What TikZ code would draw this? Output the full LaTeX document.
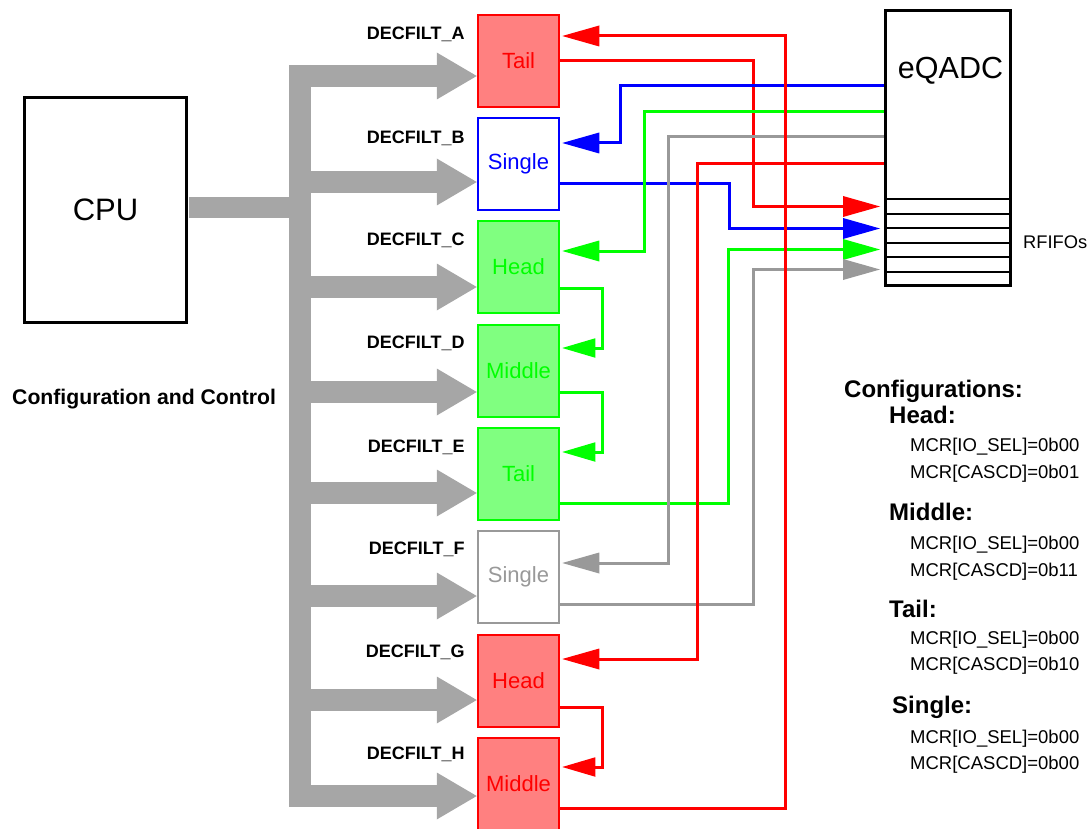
\documentclass[tikz,border=0pt]{standalone}
\usepackage{fontspec}
\setmainfont{Liberation Sans}
\usepackage{xcolor}
\usetikzlibrary{arrows.meta,positioning,calc}
\definecolor{busgray}{HTML}{A6A6A6}
\definecolor{wiregray}{HTML}{999999}
\definecolor{softred}{HTML}{FF8080}
\definecolor{softgreen}{HTML}{80FF80}
\tikzset{
  filt/.style={draw, line width=2.5pt, minimum width=81pt, minimum height=92pt, inner sep=0pt, align=center, font=\fontsize{22}{26}\selectfont},
  redfilt/.style={filt, draw=red, fill=softred, text=red},
  greenfilt/.style={filt, draw=green, fill=softgreen, text=green},
  bluefilt/.style={filt, draw=blue, fill=white, text=blue},
  grayfilt/.style={filt, draw=wiregray, fill=white, text=wiregray},
  cpubox/.style={draw, line width=2.7pt, minimum width=162pt, minimum height=225pt, inner sep=0pt, font=\fontsize{31}{36}\selectfont},
  adcbox/.style={draw, line width=3pt, minimum width=125pt, minimum height=275pt, inner sep=0pt},
  fifoline/.style={draw, line width=2pt},
  busline/.style={draw=busgray, line width=22pt},
  bus/.style={draw=busgray, line width=22pt, -{Triangle[length=40pt,width=47pt,line width=0pt]}},
  wire/.style={line width=3pt, -{Triangle[length=37pt,width=21pt,line width=0pt]}},
  link/.style={line width=3pt, -{Triangle[length=33pt,width=19.5pt,line width=0pt]}},
  tag/.style={font=\bfseries\fontsize{18}{21}\selectfont, inner sep=0pt, anchor=base east},
  cfgtitle/.style={font=\bfseries\fontsize{24}{28}\selectfont, inner sep=0pt, anchor=base west},
  cfgreg/.style={font=\fontsize{18.5}{22}\selectfont, inner sep=0pt, anchor=base west}
}

\begin{document}
\begin{tikzpicture}[x=1pt,y=-1pt]
  \useasboundingbox (0,0) rectangle (1092,829);

  % processor and converter
  \node[cpubox] (cpu) at (105.5,210) {CPU};
  \node[adcbox] (eq) at (948,148) {};
  \node[inner sep=0pt, anchor=base, font=\fontsize{30.5}{36}\selectfont] (eqname) at (950.5,79) {eQADC};
  \draw[fifoline] ([yshift=-190.5pt]eq.north west) -- ([yshift=-190.5pt]eq.north east);
  \draw[fifoline] ([yshift=-204.9pt]eq.north west) -- ([yshift=-204.9pt]eq.north east);
  \draw[fifoline] ([yshift=-219.3pt]eq.north west) -- ([yshift=-219.3pt]eq.north east);
  \draw[fifoline] ([yshift=-233.7pt]eq.north west) -- ([yshift=-233.7pt]eq.north east);
  \draw[fifoline] ([yshift=-248.1pt]eq.north west) -- ([yshift=-248.1pt]eq.north east);
  \draw[fifoline] ([yshift=-262.5pt]eq.north west) -- ([yshift=-262.5pt]eq.north east);
  \node[cfgreg, font=\fontsize{18.3}{22}\selectfont] (fifoname) at (1023,248.5) {RFIFOs};

  % decimation filters
  \node[redfilt] (dfA) at (518.5,61) {Tail};
  \node[bluefilt] (dfB) at (518.5,164) {Single};
  \node[greenfilt] (dfC) at (518.5,267) {Head};
  \node[greenfilt] (dfD) at (518.5,371) {Middle};
  \node[greenfilt] (dfE) at (518.5,474) {Tail};
  \node[grayfilt] (dfF) at (518.5,577) {Single};
  \node[redfilt] (dfG) at (518.5,681) {Head};
  \node[redfilt] (dfH) at (518.5,784) {Middle};

  \node[tag] (tagA) at ([xshift=-12pt,yshift=-26pt]dfA.north west) {DECFILT\_A};
  \node[tag] (tagB) at ([xshift=-12pt,yshift=-26.5pt]dfB.north west) {DECFILT\_B};
  \node[tag] (tagC) at ([xshift=-12pt,yshift=-25.5pt]dfC.north west) {DECFILT\_C};
  \node[tag] (tagD) at ([xshift=-12pt,yshift=-24.5pt]dfD.north west) {DECFILT\_D};
  \node[tag] (tagE) at ([xshift=-12pt,yshift=-25.5pt]dfE.north west) {DECFILT\_E};
  \node[tag] (tagF) at ([xshift=-12pt,yshift=-24.5pt]dfF.north west) {DECFILT\_F};
  \node[tag] (tagG) at ([xshift=-12pt,yshift=-23.5pt]dfG.north west) {DECFILT\_G};
  \node[tag] (tagH) at ([xshift=-12pt,yshift=-22.5pt]dfH.north west) {DECFILT\_H};

  % configuration and control bus
  \coordinate (spine) at (300,0);
  \coordinate (inA) at ([yshift=-15pt]dfA.west);
  \coordinate (inB) at ([yshift=-18pt]dfB.west);
  \coordinate (inC) at ([yshift=-20pt]dfC.west);
  \coordinate (inD) at ([yshift=-21pt]dfD.west);
  \coordinate (inE) at ([yshift=-19pt]dfE.west);
  \coordinate (inF) at ([yshift=-19pt]dfF.west);
  \coordinate (inG) at ([yshift=-19pt]dfG.west);
  \coordinate (inH) at ([yshift=-12pt]dfH.west);
  \coordinate (cpuout) at ([xshift=1.5pt,yshift=2.5pt]cpu.east);
  \draw[busline, shorten <=-11pt, shorten >=-11pt] (spine |- inA) -- (spine |- inH);
  \draw[busline, line width=21pt] (cpuout) -- (spine |- cpuout);
  \draw[bus] (spine |- inA) -- (inA);
  \draw[bus] (spine |- inB) -- (inB);
  \draw[bus] (spine |- inC) -- (inC);
  \draw[bus] (spine |- inD) -- (inD);
  \draw[bus] (spine |- inE) -- (inE);
  \draw[bus] (spine |- inF) -- (inF);
  \draw[bus] (spine |- inG) -- (inG);
  \draw[bus] (spine |- inH) -- (inH);
  \node[font=\bfseries\fontsize{21.2}{25}\selectfont, inner sep=0pt, anchor=base west] (ctrl) at (12,404.5) {Configuration and Control};

  % result paths into the RFIFOs
  \draw[wire, red] (dfA.east) -- ++(193,0) |- ([xshift=-4pt,yshift=-197.5pt]eq.north west);
  \draw[wire, blue] ([yshift=-20pt]dfB.east) -- ++(169,0) |- ([xshift=-4pt,yshift=-219.5pt]eq.north west);
  \draw[wire, green] ([yshift=-29pt]dfE.east) -- ++(168,0) |- ([xshift=-4pt,yshift=-240.5pt]eq.north west);
  \draw[wire, wiregray] ([yshift=-27pt]dfF.east) -- ++(193,0) |- ([xshift=-4pt,yshift=-260.5pt]eq.north west);

  % conversion data into the filters
  \draw[wire, blue] ([yshift=-76.5pt]eq.north west) -- ++(-263.5,0) |- ([xshift=2pt,yshift=21pt]dfB.east);
  \draw[wire, green] ([yshift=-102.5pt]eq.north west) -- ++(-239.5,0) |- ([xshift=2pt,yshift=16pt]dfC.east);
  \draw[wire, wiregray] ([yshift=-127.5pt]eq.north west) -- ++(-215.5,0) |- ([xshift=2pt,yshift=14pt]dfF.east);
  \draw[wire, red] ([yshift=-154.5pt]eq.north west) -- ++(-186.5,0) |- ([xshift=2pt,yshift=22pt]dfG.east);

  % cascades
  \draw[link, green] ([yshift=-21pt]dfC.east) -- ++(42,0) |- ([xshift=2pt,yshift=23pt]dfD.east);
  \draw[link, green] ([yshift=-21pt]dfD.east) -- ++(42,0) |- ([xshift=2pt,yshift=22pt]dfE.east);
  \draw[link, red] ([yshift=-26pt]dfG.east) -- ++(42,0) |- ([xshift=2pt,yshift=17pt]dfH.east);
  \draw[wire, red] ([yshift=-24pt]dfH.east) -- ++(225,0) |- ([xshift=2pt,yshift=25pt]dfA.east);

  % register settings
  \node[cfgtitle] (cfg) at (844,397) {Configurations:};
  \node[cfgtitle] (cfghead) at (889,423.3) {Head:};
  \node[cfgreg] (headio) at (910,451.5) {MCR[IO\_SEL]=0b00};
  \node[cfgreg] (headcas) at (910,478) {MCR[CASCD]=0b01};
  \node[cfgtitle] (cfgmid) at (889,520) {Middle:};
  \node[cfgreg] (midio) at (910,549) {MCR[IO\_SEL]=0b00};
  \node[cfgreg] (midcas) at (910,576) {MCR[CASCD]=0b11};
  \node[cfgtitle] (cfgtail) at (889,617) {Tail:};
  \node[cfgreg] (tailio) at (910,644) {MCR[IO\_SEL]=0b00};
  \node[cfgreg] (tailcas) at (910,670.5) {MCR[CASCD]=0b10};
  \node[cfgtitle] (cfgsingle) at (892,713.5) {Single:};
  \node[cfgreg] (singleio) at (910,743) {MCR[IO\_SEL]=0b00};
  \node[cfgreg] (singlecas) at (910,769) {MCR[CASCD]=0b00};
\end{tikzpicture}
\end{document}
